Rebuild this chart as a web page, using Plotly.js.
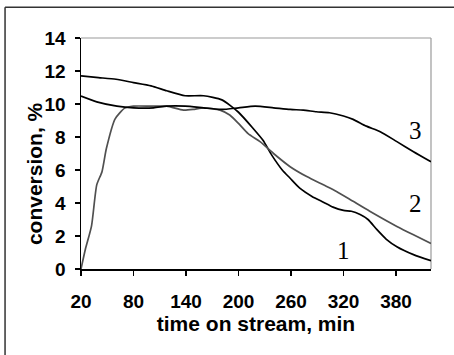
<!DOCTYPE html>
<html>
<head>
<meta charset="utf-8">
<script src="https://cdn.plot.ly/plotly-3.0.1.min.js"></script>
<style>html,body{margin:0;padding:0;background:#fff;}#chart{width:454px;height:355px;}</style>
</head>
<body>
<div id="chart"></div>
<script>
// time on stream, min
const t1 = [20, 40, 60, 80, 100, 118, 139, 160, 181, 200, 217, 228, 238, 250, 259, 270, 284, 297, 308, 320, 329, 339, 348, 358, 369, 381, 400, 420];
const conv1 = [11.7, 11.6, 11.5, 11.3, 11.1, 10.8, 10.5, 10.5, 10.25, 9.5, 8.5, 7.8, 6.9, 6.0, 5.5, 4.9, 4.4, 4.05, 3.75, 3.55, 3.5, 3.3, 3.0, 2.4, 1.8, 1.35, 0.87, 0.5];

const t2 = [20, 25, 32, 38, 44, 49, 59, 70, 80, 100, 118, 137, 148, 160, 179, 190, 200, 211, 225, 240, 259, 278, 297, 312, 331, 350, 381, 400, 420];
const conv2 = [0, 1.2, 2.6, 5.1, 5.9, 7.3, 9.1, 9.75, 9.87, 9.87, 9.87, 9.63, 9.67, 9.77, 9.63, 9.33, 8.82, 8.2, 7.7, 7.0, 6.2, 5.6, 5.1, 4.7, 4.1, 3.5, 2.58, 2.07, 1.55];

const t3 = [20, 38, 61, 80, 103, 118, 139, 160, 181, 200, 219, 240, 259, 274, 289, 304, 320, 331, 346, 362, 381, 400, 420];
const conv3 = [10.48, 10.13, 9.87, 9.77, 9.77, 9.87, 9.87, 9.77, 9.67, 9.77, 9.87, 9.77, 9.67, 9.63, 9.53, 9.47, 9.27, 9.07, 8.66, 8.32, 7.72, 7.11, 6.5];

const xTicks = [20, 80, 140, 200, 260, 320, 380];
const yTicks = [0, 2, 4, 6, 8, 10, 12, 14];

const curveLabels = ["1", "2", "3"];
const labelX = [320, 402, 402];
const labelY = [1.14, 3.98, 8.42];

const traces = [
  {x: t1, y: conv1, mode: 'lines', name: '1', line: {color: '#000000', width: 1.7, shape: 'spline', smoothing: 0.6}},
  {x: t2, y: conv2, mode: 'lines', name: '2', line: {color: '#505050', width: 1.7, shape: 'spline', smoothing: 0.6}},
  {x: t3, y: conv3, mode: 'lines', name: '3', line: {color: '#000000', width: 1.7, shape: 'spline', smoothing: 0.6}}
];

const annotations = curveLabels.map((s, i) => ({
  x: labelX[i], y: labelY[i], xref: 'x', yref: 'y', text: s, showarrow: false,
  font: {family: 'Liberation Serif, Times New Roman, serif', size: 25, color: '#000'}
}));
annotations.push({
  xref: 'paper', yref: 'paper', x: -0.131, y: 0.4115, text: 'conversion, %', textangle: -90,
  showarrow: false, xanchor: 'center', yanchor: 'middle',
  font: {family: 'Liberation Sans, Arial, sans-serif', size: 21, color: '#000', weight: 'bold'}
});

const layout = {
  width: 454, height: 355,
  margin: {l: 81, r: 23, t: 38, b: 86, pad: 0},
  paper_bgcolor: '#ffffff', plot_bgcolor: '#ffffff',
  showlegend: false,
  font: {family: 'Liberation Sans, Arial, sans-serif', color: '#000'},
  xaxis: {
    range: [20, 420], tickvals: xTicks, ticktext: xTicks.map(String),
    showgrid: false, zeroline: false, showline: true, linecolor: '#000', linewidth: 2,
    ticks: 'outside', ticklen: 5, tickwidth: 1.5, tickcolor: '#000',
    ticklabelstandoff: 9,
    tickfont: {size: 19, weight: 'bold', family: 'Liberation Sans, Arial, sans-serif'},
    title: {text: 'time on stream, min', standoff: 4, font: {size: 21, weight: 'bold', family: 'Liberation Sans, Arial, sans-serif'}},
    automargin: false, fixedrange: true
  },
  yaxis: {
    range: [0, 14], tickvals: yTicks, ticktext: yTicks.map(String),
    showgrid: false, zeroline: false, showline: true, linecolor: '#000', linewidth: 1.5,
    ticks: 'outside', ticklen: 5, tickwidth: 1.5, tickcolor: '#000',
    ticklabelstandoff: 5,
    tickfont: {size: 19, weight: 'bold', family: 'Liberation Sans, Arial, sans-serif'},
    automargin: false, fixedrange: true
  },
  shapes: [
    {type: 'line', xref: 'paper', yref: 'paper', x0: 0, x1: 1, y0: 1, y1: 1, line: {color: '#9a9a9a', width: 1.2}, layer: 'below'},
    {type: 'line', xref: 'paper', yref: 'paper', x0: 1, x1: 1, y0: 0, y1: 1, line: {color: '#9a9a9a', width: 1.2}, layer: 'below'},
    {type: 'line', xref: 'paper', yref: 'paper', x0: -0.217, x1: -0.217, y0: -0.4, y1: 1.1326, line: {color: '#333', width: 1.5}},
    {type: 'line', xref: 'paper', yref: 'paper', x0: -0.217, x1: 1.2, y0: 1.1326, y1: 1.1326, line: {color: '#333', width: 1.5}}
  ],
  annotations: annotations
};

Plotly.newPlot('chart', traces, layout, {displayModeBar: false, staticPlot: true});
</script>
</body>
</html>
